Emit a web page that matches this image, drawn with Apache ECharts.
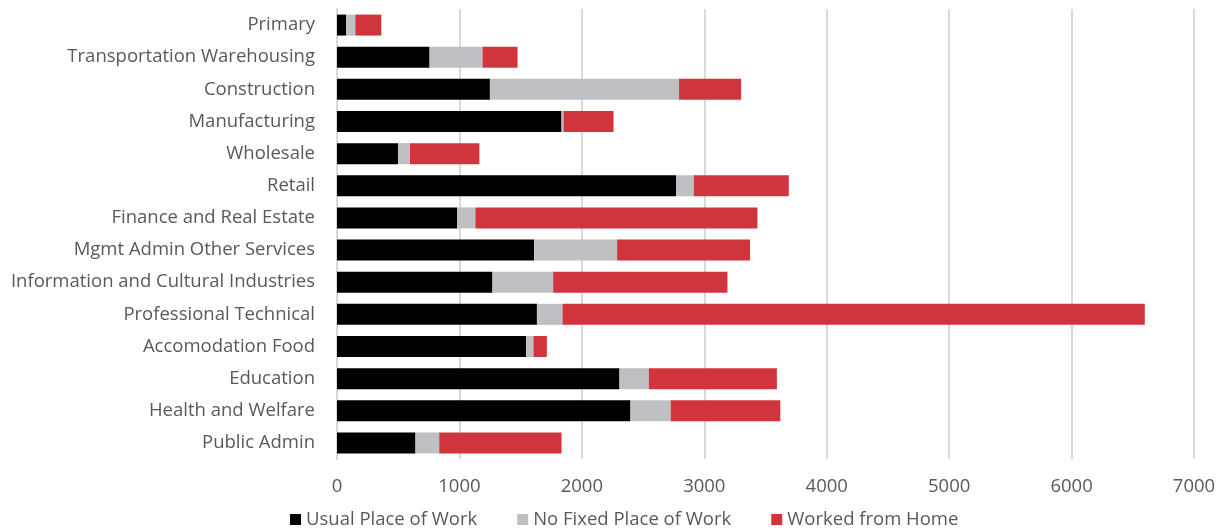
<!DOCTYPE html>
<html>
<head>
<meta charset="utf-8">
<script src="https://cdn.jsdelivr.net/npm/echarts@6/dist/echarts.min.js"></script>
<style>html,body{margin:0;padding:0;background:#fff;}#c{width:1224px;height:531px;}</style>
</head>
<body>
<div id="c"></div>
<script>
const categories = ["Primary","Transportation Warehousing","Construction","Manufacturing","Wholesale","Retail","Finance and Real Estate","Mgmt Admin Other Services","Information and Cultural Industries","Professional Technical","Accomodation Food","Education","Health and Welfare","Public Admin"];
const usualPlace = [76,756,1249,1834,498,2769,982,1611,1270,1633,1545,2307,2397,641];
const noFixedPlace = [74,433,1545,16,98,145,148,677,496,209,60,240,329,194];
const workedFromHome = [212,286,507,409,567,776,2304,1086,1423,4756,109,1046,895,999];
const seriesNames = ["Usual Place of Work","No Fixed Place of Work","Worked from Home"];
const colors = ["#000000","#BFC0C4","#D0343C"];

const font = "'Open Sans', sans-serif";
const fs = 18.5;
const chart = echarts.init(document.getElementById('c'));
const mk = (name, data, color) => ({
  name, type: 'bar', stack: 'total', data, barWidth: 21,
  itemStyle: { color }, emphasis: { disabled: true }
});
chart.setOption({
  animation: false,
  color: colors,
  grid: { left: 337, right: 30, top: 9, bottom: 72, containLabel: false },
  legend: {
    top: 510, left: 290, padding: 0, itemWidth: 11, itemHeight: 11, itemGap: 40,
    icon: 'rect',
    textStyle: { color: '#595959', fontSize: fs, fontFamily: font },
    data: seriesNames
  },
  xAxis: {
    type: 'value', min: 0, max: 7000, interval: 1000,
    axisLine: { show: false }, axisTick: { show: false },
    axisLabel: { color: '#595959', fontSize: fs, fontFamily: font, margin: 18, formatter: v => String(v) },
    splitLine: { lineStyle: { color: '#D9D9D9', width: 2 } }
  },
  yAxis: {
    type: 'category', data: categories, inverse: true,
    axisLine: { show: true, lineStyle: { color: '#D9D9D9', width: 2 } },
    axisTick: { show: false },
    axisLabel: { color: '#595959', fontSize: fs, fontFamily: font, margin: 22 }
  },
  series: [
    mk(seriesNames[0], usualPlace, colors[0]),
    mk(seriesNames[1], noFixedPlace, colors[1]),
    mk(seriesNames[2], workedFromHome, colors[2])
  ]
});
</script>
</body>
</html>
